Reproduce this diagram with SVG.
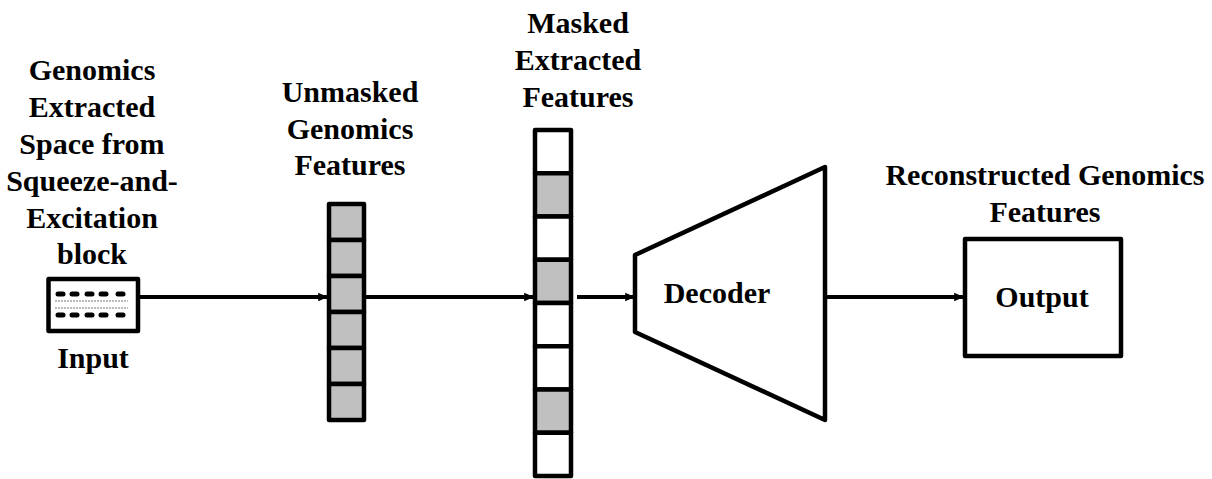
<svg xmlns="http://www.w3.org/2000/svg" width="1212" height="479" viewBox="0 0 1212 479" font-family="Liberation Serif, DejaVu Serif, serif">
<style>
text{font-weight:bold;font-size:30px;fill:#000;text-anchor:middle}
.box{fill:#fff;stroke:#000;stroke-width:4.5;stroke-linejoin:round}
.cell{stroke:#000;stroke-width:4.5;stroke-linejoin:round}
.g{fill:#c0c0c0}
.w{fill:#fff}
.conn{stroke:#000;stroke-width:4;fill:none}
.dash{stroke:#000;stroke-width:5;stroke-linecap:round}
.dot{stroke:#777;stroke-width:1;stroke-dasharray:2 1}
</style>
<defs>
<marker id="ah" markerWidth="2.5" markerHeight="2.5" refX="2.2" refY="1.25" orient="auto" markerUnits="strokeWidth">
<path d="M0,0.2 L2.5,1.25 L0,2.3 Z" fill="#000"/>
</marker>
</defs>
<rect width="1212" height="479" fill="#fff"/>

<g id="connectors">
<line class="conn" x1="140" y1="297" x2="327" y2="297" marker-end="url(#ah)"/>
<line class="conn" x1="366" y1="297" x2="533" y2="297" marker-end="url(#ah)"/>
<line class="conn" x1="577" y1="297" x2="634" y2="297" marker-end="url(#ah)"/>
<line class="conn" x1="825" y1="297" x2="963" y2="297" marker-end="url(#ah)"/>
</g>

<g id="input" font-family="Liberation Serif">
<text x="92" y="80" font-family="Liberation Serif">Genomics</text>
<text x="92" y="117" font-family="Liberation Serif">Extracted</text>
<text x="92" y="154" font-family="Liberation Serif">Space from</text>
<text x="92" y="191" font-family="Liberation Serif">Squeeze-and-</text>
<text x="92" y="228" font-family="Liberation Serif">Excitation</text>
<text x="92" y="264" font-family="Liberation Serif">block</text>
<rect class="box" x="48.5" y="279" width="89.5" height="52" stroke-width="4"/>
<line class="dash" x1="58" y1="294" x2="63" y2="294"/>
<line class="dash" x1="72" y1="294" x2="77" y2="294"/>
<line class="dash" x1="87" y1="294" x2="92" y2="294"/>
<line class="dash" x1="101" y1="294" x2="106" y2="294"/>
<line class="dash" x1="118" y1="294" x2="123" y2="294"/>
<line class="dot" x1="55" y1="301" x2="128" y2="301"/>
<line class="dot" x1="55" y1="308" x2="128" y2="308"/>
<line class="dash" x1="58" y1="315" x2="63" y2="315"/>
<line class="dash" x1="72" y1="315" x2="77" y2="315"/>
<line class="dash" x1="87" y1="315" x2="92" y2="315"/>
<line class="dash" x1="101" y1="315" x2="106" y2="315"/>
<line class="dash" x1="118" y1="315" x2="123" y2="315"/>
<text x="93" y="368" font-family="Liberation Serif">Input</text>
</g>

<g id="unmasked" font-family="Liberation Serif">
<text x="350" y="102">Unmasked</text>
<text x="350" y="139">Genomics</text>
<text x="350" y="175">Features</text>
<rect class="cell g" x="329" y="204" width="35" height="36"/>
<rect class="cell g" x="329" y="240" width="35" height="36"/>
<rect class="cell g" x="329" y="276" width="35" height="36"/>
<rect class="cell g" x="329" y="312" width="35" height="36"/>
<rect class="cell g" x="329" y="348" width="35" height="36"/>
<rect class="cell g" x="329" y="384" width="35" height="36"/>
</g>

<g id="masked" font-family="Liberation Serif">
<text x="578" y="33">Masked</text>
<text x="578" y="70">Extracted</text>
<text x="578" y="107">Features</text>
<rect class="cell w" x="535" y="130" width="36" height="43.25"/>
<rect class="cell g" x="535" y="173.25" width="36" height="43.25"/>
<rect class="cell w" x="535" y="216.5" width="36" height="43.25"/>
<rect class="cell g" x="535" y="259.75" width="36" height="43.25"/>
<rect class="cell w" x="535" y="303" width="36" height="43.25"/>
<rect class="cell w" x="535" y="346.25" width="36" height="43.25"/>
<rect class="cell g" x="535" y="389.5" width="36" height="43.25"/>
<rect class="cell w" x="535" y="432.75" width="36" height="43.25"/>
</g>

<g id="decoder" font-family="Liberation Serif">
<polygon class="box" points="635,255 825,167 825,420 635,332"/>
<text x="717" y="303">Decoder</text>
</g>

<g id="output" font-family="Liberation Serif">
<text x="1045" y="185">Reconstructed Genomics</text>
<text x="1045" y="222">Features</text>
<rect class="box" x="965" y="239" width="156" height="117" stroke-width="4"/>
<text x="1042" y="307">Output</text>
</g>
</svg>
